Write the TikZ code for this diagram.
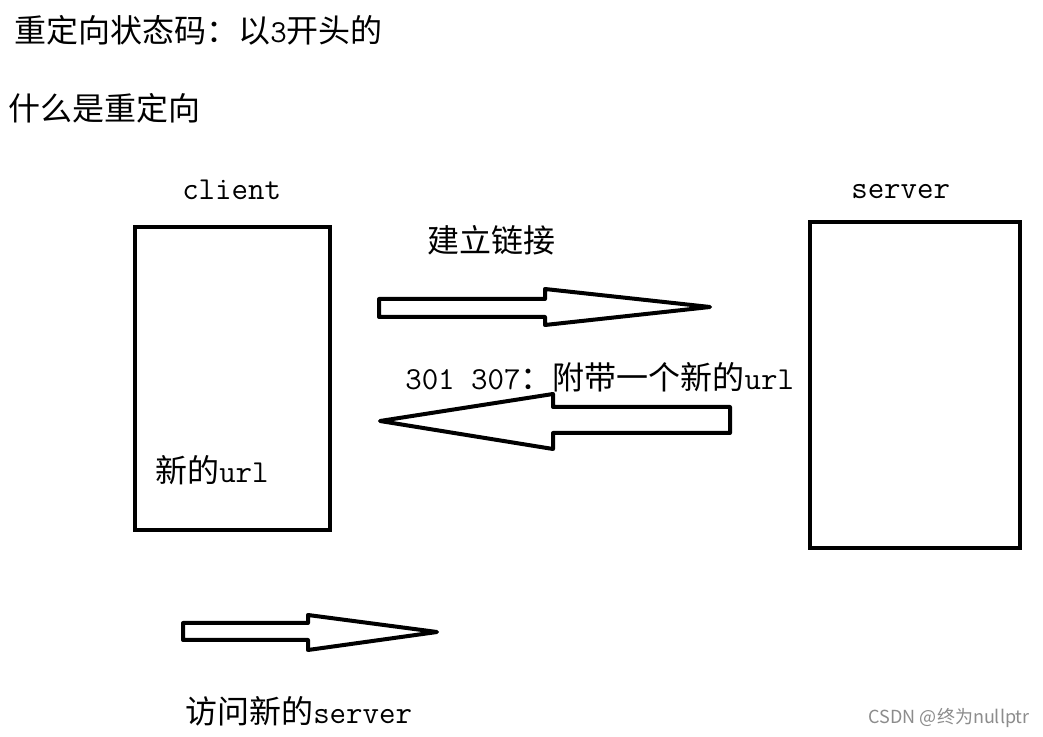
\documentclass[tikz,border=0pt]{standalone}
\usepackage{fontspec}
\newfontfamily\cjk{Noto Sans CJK SC}
\begin{document}
\begin{tikzpicture}[x=0.75pt,y=-0.75pt,
  txt/.style={anchor=west,inner sep=0pt,font=\fontsize{24}{28}\selectfont},
  box/.style={draw,line width=3pt,line join=miter},
  blockarrow/.style={draw,line width=3pt,line join=round,fill=white},
  wmark/.style={anchor=east,inner sep=0pt,text=black!45,font=\cjk\fontsize{13.5}{15}\selectfont}]
\useasboundingbox[fill=white] (0,0) rectangle (1043,737);
% texts
\node[txt] (t1) at (14,30) {{\cjk 重定向状态码：以}{\ttfamily 3}{\cjk 开头的}};
\node[txt] (t2) at (8,108) {{\cjk 什么是重定向}};
\node[txt] (cl) at (182,190) {\ttfamily client};
\node[txt] (sv) at (851,192) {\ttfamily server};
\node[txt] (jl) at (427,240) {{\cjk 建立链接}};
\node[txt] (rs) at (405,377) {{\ttfamily 301 307}{\cjk ：附带一个新的}{\ttfamily url}};
\node[txt] (nu) at (155,470) {{\cjk 新的}{\ttfamily url}};
\node[txt] (fw) at (185,711) {{\cjk 访问新的}{\ttfamily server}};
\node[wmark] (wm) at (1030,718) {CSDN @终为nullptr};
% boxes
\draw[box] (135,227) rectangle (330,530);
\draw[box] (810,222) rectangle (1020,548);
% arrow 1 (right)
\draw[blockarrow] (379,299) -- (545,299) -- (545,289) -- (710,307) -- (545,325) -- (545,317) -- (379,317) -- cycle;
% arrow 2 (left)
\draw[blockarrow] (730,407) -- (553,407) -- (553,394) -- (380,421) -- (553,449) -- (553,433) -- (730,433) -- cycle;
% arrow 3 (right)
\draw[blockarrow] (183,623) -- (308,623) -- (308,615) -- (437,632) -- (308,650) -- (308,640) -- (183,640) -- cycle;
\end{tikzpicture}
\end{document}
